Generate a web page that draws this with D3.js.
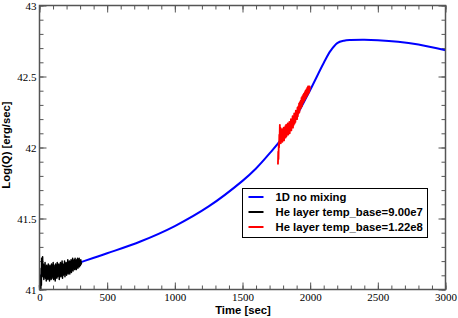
<!DOCTYPE html>
<html>
<head>
<meta charset="utf-8">
<script src="https://cdn.jsdelivr.net/npm/d3@7"></script>
<style>
  body { margin: 0; background: #fff; }
  svg { display: block; }
  .tick text { font-family: "Liberation Serif", "Times New Roman", serif; font-size: 11px; fill: #000; }
  .tick line { stroke: #555; stroke-width: 1; }
  .lab { font-family: "Liberation Sans", Arial, sans-serif; font-weight: bold; font-size: 11.3px; fill: #000; }
</style>
</head>
<body>
<div id="chart"></div>
<script>
// tick values
var xMajor = [0, 500, 1000, 1500, 2000, 2500, 3000];
var xMinor = d3.range(0, 3001, 100);
var yMajor = [41, 41.5, 42, 42.5, 43];
var yMinor = d3.range(41, 43.001, 0.1);

// 1D model, [time, logQ]
var blueData = [
  [0, 41.095], [250, 41.175], [500, 41.255], [750, 41.34], [1000, 41.447],
  [1250, 41.585], [1500, 41.765], [1600, 41.852], [1700, 41.958], [1800, 42.075],
  [1900, 42.225], [2000, 42.405], [2100, 42.595], [2150, 42.68], [2200, 42.735],
  [2250, 42.752], [2300, 42.757], [2400, 42.759], [2500, 42.756], [2650, 42.745],
  [2800, 42.725], [3000, 42.685]
];

// He layer temp_base=9.00e7
var blackData = [
  [0, 41.03], [2, 41.00], [4, 41.06], [6, 41.01], [8, 41.10], [10, 41.00], [12, 41.15],
  [14, 41.03], [16, 41.22], [18, 41.10], [20, 41.19], [23, 41.23], [26, 41.09], [29, 41.18],
  [32, 41.07], [35, 41.16], [38, 41.10], [41, 41.19], [44, 41.08], [47, 41.15], [50, 41.06],
  [53, 41.17], [56, 41.09], [59, 41.14], [62, 41.07], [65, 41.18], [68, 41.08], [71, 41.16],
  [74, 41.06], [77, 41.17], [80, 41.09], [83, 41.15], [86, 41.07], [89, 41.18], [92, 41.08],
  [95, 41.16], [98, 41.10], [101, 41.19], [104, 41.07], [107, 41.17], [110, 41.09],
  [113, 41.15], [116, 41.06], [119, 41.18], [122, 41.10], [125, 41.16], [128, 41.08],
  [131, 41.19], [134, 41.09], [137, 41.17], [140, 41.11], [143, 41.18], [146, 41.07],
  [149, 41.16], [152, 41.10], [155, 41.19], [158, 41.09], [161, 41.17], [164, 41.11],
  [167, 41.20], [170, 41.08], [173, 41.18], [176, 41.10], [179, 41.17], [182, 41.11],
  [185, 41.20], [188, 41.09], [191, 41.18], [194, 41.12], [197, 41.19], [200, 41.10],
  [203, 41.18], [206, 41.12], [209, 41.21], [212, 41.11], [215, 41.18], [218, 41.13],
  [221, 41.20], [224, 41.11], [227, 41.19], [230, 41.14], [233, 41.21], [236, 41.12],
  [239, 41.20], [242, 41.14], [245, 41.22], [248, 41.13], [251, 41.19], [254, 41.15],
  [257, 41.21], [260, 41.14], [263, 41.22], [266, 41.15], [269, 41.20], [272, 41.14],
  [275, 41.21], [278, 41.16], [281, 41.22], [284, 41.15], [287, 41.20], [290, 41.16],
  [293, 41.22], [296, 41.16], [299, 41.20], [302, 41.17], [305, 41.21], [308, 41.18],
  [311, 41.19]
];

// He layer temp_base=1.22e8
var redData = [
  [1762, 41.88], [1764, 41.97], [1766, 41.92], [1768, 42.03], [1770, 42.00], [1772, 42.09],
  [1774, 42.04], [1776, 42.16], [1778, 42.05], [1780, 42.14], [1783, 42.03], [1786, 42.12],
  [1789, 42.05], [1792, 42.13], [1795, 42.04], [1798, 42.12], [1801, 42.06], [1804, 42.14],
  [1807, 42.05], [1810, 42.13], [1813, 42.07], [1816, 42.15], [1819, 42.07], [1822, 42.16],
  [1825, 42.08], [1828, 42.15], [1831, 42.09], [1834, 42.17], [1837, 42.09], [1840, 42.16],
  [1843, 42.10], [1846, 42.18], [1849, 42.10], [1852, 42.17], [1855, 42.12], [1858, 42.20],
  [1861, 42.12], [1864, 42.19], [1867, 42.14], [1870, 42.22], [1873, 42.14], [1876, 42.21],
  [1879, 42.16], [1882, 42.24], [1885, 42.17], [1888, 42.24], [1891, 42.18], [1894, 42.26],
  [1897, 42.20], [1900, 42.26], [1903, 42.20], [1906, 42.28], [1909, 42.22], [1912, 42.29],
  [1915, 42.24], [1918, 42.31], [1921, 42.25], [1924, 42.32], [1927, 42.27], [1930, 42.33],
  [1933, 42.28], [1936, 42.35], [1939, 42.29], [1942, 42.36], [1945, 42.31], [1948, 42.37],
  [1951, 42.32], [1954, 42.38], [1957, 42.33], [1960, 42.39], [1963, 42.34], [1966, 42.40],
  [1969, 42.35], [1972, 42.41], [1975, 42.36], [1978, 42.42], [1981, 42.37], [1984, 42.43],
  [1987, 42.38], [1990, 42.43], [1993, 42.39], [1996, 42.43], [1999, 42.41]
];

var seriesNames = ["1D no mixing", "He layer temp_base=9.00e7", "He layer temp_base=1.22e8"];
var seriesColors = ["#0000ff", "#000000", "#ff0000"];

var W = 458, H = 318;
var plotL = 39.5, plotR = 445.5, plotT = 5.5, plotB = 289.5;

var svg = d3.select("#chart").append("svg")
  .attr("width", W)
  .attr("height", H);

var x = d3.scaleLinear().domain([0, 3000]).range([plotL, plotR]);
var y = d3.scaleLinear().domain([41, 43]).range([plotB, plotT]);

// minor ticks first, then majors
function addAxis(axis, tx, ty) {
  var g = svg.append("g").attr("transform", "translate(" + tx + "," + ty + ")").call(axis);
  g.select(".domain").remove();
  return g;
}

addAxis(d3.axisBottom(x).tickValues(xMinor).tickSize(-4).tickFormat(""), 0, plotB);
addAxis(d3.axisBottom(x).tickValues(xMajor).tickSize(-7).tickPadding(4).tickFormat(d3.format("d")), 0, plotB);
addAxis(d3.axisTop(x).tickValues(xMinor).tickSize(-4).tickFormat(""), 0, plotT);
addAxis(d3.axisTop(x).tickValues(xMajor).tickSize(-7).tickFormat(""), 0, plotT);

addAxis(d3.axisLeft(y).tickValues(yMinor).tickSize(-4).tickFormat(""), plotL, 0);
addAxis(d3.axisLeft(y).tickValues(yMajor).tickSize(-7).tickPadding(3).tickFormat(function(d) { return String(d); }), plotL, 0);
addAxis(d3.axisRight(y).tickValues(yMinor).tickSize(-4).tickFormat(""), plotR, 0);
addAxis(d3.axisRight(y).tickValues(yMajor).tickSize(-7).tickFormat(""), plotR, 0);

var line = d3.line().x(function(d) { return x(d[0]); }).y(function(d) { return y(d[1]); });

svg.append("path")
  .datum(blueData)
  .attr("fill", "none")
  .attr("stroke", seriesColors[0])
  .attr("stroke-width", 2)
  .attr("d", line.curve(d3.curveCatmullRom.alpha(0.5)));

line.curve(d3.curveLinear);

svg.append("path")
  .datum(blackData)
  .attr("fill", "none")
  .attr("stroke", seriesColors[1])
  .attr("stroke-width", 1.5)
  .attr("stroke-linejoin", "round")
  .attr("d", line);

svg.append("path")
  .datum(redData)
  .attr("fill", "none")
  .attr("stroke", seriesColors[2])
  .attr("stroke-width", 1.8)
  .attr("stroke-linejoin", "round")
  .attr("d", line);

// frame
svg.append("rect")
  .attr("x", plotL)
  .attr("y", plotT)
  .attr("width", plotR - plotL)
  .attr("height", plotB - plotT)
  .attr("fill", "none")
  .attr("stroke", "#555")
  .attr("stroke-width", 1.5);

// axis titles
svg.append("text")
  .attr("class", "lab")
  .attr("x", 243)
  .attr("y", 313.5)
  .attr("text-anchor", "middle")
  .text("Time [sec]");

svg.append("text")
  .attr("class", "lab")
  .attr("transform", "translate(9.5,145) rotate(-90)")
  .attr("text-anchor", "middle")
  .text("Log(Q) [erg/sec]");

// legend
var legend = svg.append("g").attr("transform", "translate(242.5,188.5)");
legend.append("rect")
  .attr("width", 185)
  .attr("height", 49)
  .attr("fill", "#fff")
  .attr("stroke", "#000")
  .attr("stroke-width", 1);

seriesNames.forEach(function(name, i) {
  var yy = 8.5 + i * 15;
  legend.append("line")
    .attr("x1", 6).attr("x2", 21)
    .attr("y1", yy).attr("y2", yy)
    .attr("stroke", seriesColors[i])
    .attr("stroke-width", 2);
  legend.append("text")
    .attr("class", "lab")
    .attr("x", 33)
    .attr("y", yy)
    .attr("dy", "0.35em")
    .text(name);
});
</script>
</body>
</html>
